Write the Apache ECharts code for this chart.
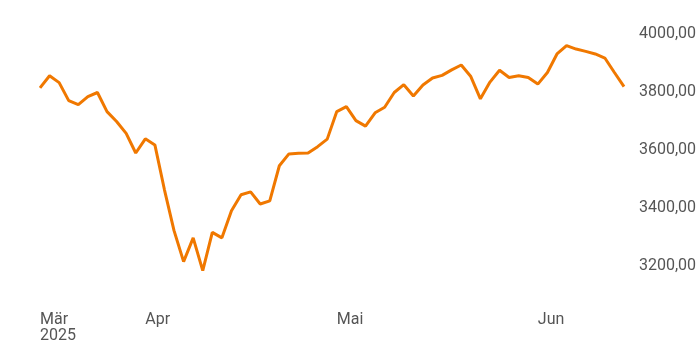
<!DOCTYPE html>
<html><head><meta charset="utf-8">
<script src="https://cdn.jsdelivr.net/npm/echarts@6/dist/echarts.min.js"></script>
<style>html,body{margin:0;padding:0;background:#fff}#c{width:700px;height:350px}</style>
</head><body><div id="c"></div>
<script>
const dates = ["2025-03-17","2025-03-18","2025-03-19","2025-03-20","2025-03-21","2025-03-24","2025-03-25","2025-03-26","2025-03-27","2025-03-28","2025-03-31",
"2025-04-01","2025-04-02","2025-04-03","2025-04-04","2025-04-07","2025-04-08","2025-04-09","2025-04-10","2025-04-11","2025-04-14","2025-04-15","2025-04-16","2025-04-17","2025-04-22","2025-04-23","2025-04-24","2025-04-25","2025-04-28","2025-04-29","2025-04-30",
"2025-05-02","2025-05-05","2025-05-06","2025-05-07","2025-05-08","2025-05-09","2025-05-12","2025-05-13","2025-05-14","2025-05-15","2025-05-16","2025-05-19","2025-05-20","2025-05-21","2025-05-22","2025-05-23","2025-05-26","2025-05-27","2025-05-28","2025-05-29","2025-05-30",
"2025-06-02","2025-06-03","2025-06-04","2025-06-05","2025-06-06","2025-06-09","2025-06-10","2025-06-11","2025-06-12","2025-06-13"];
const values = [3814,3856,3832,3770,3756,3784,3798,3732,3698,3657,3589,
3638,3617,3462,3321,3214,3296,3183,3315,3296,3390,3445,3455,3413,3424,3545,3586,3588,3589,3611,3637,
3732,3749,3701,3682,3728,3747,3798,3825,3786,3824,3848,3857,3876,3893,3853,3776,3834,3875,3850,3856,3850,
3827,3867,3931,3960,3948,3940,3931,3917,3867,3818];
const monthNames = ["Jan","Feb","Mär","Apr","Mai","Jun","Jul","Aug","Sep","Okt","Nov","Dez"];
const yTicks = [3200,3400,3600,3800,4000];

function isMonthStart(i){
  return i === 0 || dates[i].slice(5,7) !== dates[i-1].slice(5,7);
}
const chart = echarts.init(document.getElementById('c'));
chart.setOption({
  animation:false,
  grid:{left:40,right:76,top:34,bottom:49},
  xAxis:{
    type:'category', data:dates, boundaryGap:false,
    axisLine:{show:false}, axisTick:{show:false},
    axisLabel:{
      interval:(i)=>isMonthStart(i),
      align:'left', margin:11, color:'#555', fontSize:16, fontFamily:'Roboto', lineHeight:16,
      formatter:(v,i)=>{
        const m = monthNames[parseInt(v.slice(5,7),10)-1];
        return i===0 ? m+'\n'+v.slice(0,4) : m;
      }
    },
    splitLine:{show:false}
  },
  yAxis:{
    type:'value', position:'right', min:3078, max:4000,
    axisLine:{show:false}, axisTick:{show:false}, splitLine:{show:false},
    axisLabel:{
      customValues:yTicks, margin:15, color:'#555', fontSize:16, fontFamily:'Roboto',
      formatter:(v)=>v.toFixed(2).replace('.',',')
    }
  },
  series:[{type:'line', data:values, symbol:'none', lineStyle:{color:'#F07800', width:3}, itemStyle:{color:'#F07800'}}]
});
</script></body></html>
